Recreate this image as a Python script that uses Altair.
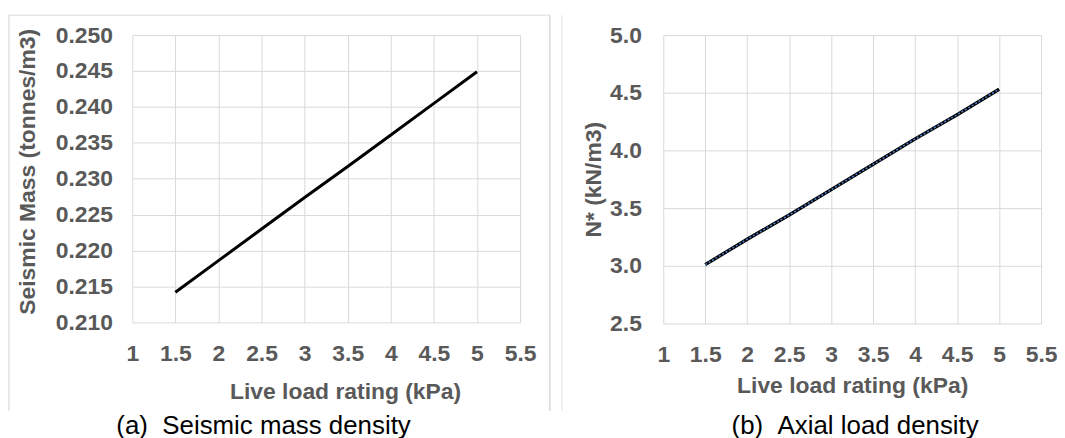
import altair as alt
import pandas as pd

# ---- data ----
live_load = [1.5, 2.0, 2.5, 3.0, 3.5, 4.0, 4.5, 5.0]
seismic_mass = [0.2142, 0.2186, 0.2230, 0.2274, 0.2317, 0.2361, 0.2405, 0.2449]
axial_load = [3.01, 3.23, 3.44, 3.66, 3.88, 4.10, 4.31, 4.53]

x_ticks = [1, 1.5, 2, 2.5, 3, 3.5, 4, 4.5, 5, 5.5]
y_ticks_a = [0.210, 0.215, 0.220, 0.225, 0.230, 0.235, 0.240, 0.245, 0.250]
y_ticks_b = [2.5, 3.0, 3.5, 4.0, 4.5, 5.0]

x_title = "Live load rating (kPa)"
y_title_a = "Seismic Mass (tonnes/m3)"
y_title_b = "N* (kN/m3)"
caption_a = "(a)\u00a0\u00a0Seismic mass density"
caption_b = "(b)\u00a0\u00a0Axial load density"

FONT = "Liberation Sans"
GRAY = "#595959"
GRID = "#d9d9d9"

df = pd.DataFrame({"load": live_load, "mass": seismic_mass, "axial": axial_load})
one = pd.DataFrame({"k": [0]})

W1, H1 = 390, 289
W2, H2 = 380, 290


def vrule(x, y1, y2, color):
    return alt.Chart(one).mark_rule(color=color, strokeWidth=1).encode(
        x=alt.value(x), y=alt.value(y1), y2=alt.value(y2))


def hrule(x1, x2, y, color):
    return alt.Chart(one).mark_rule(color=color, strokeWidth=1).encode(
        x=alt.value(x1), x2=alt.value(x2), y=alt.value(y))


def x_axis(title_padding, title_x):
    return alt.X("load:Q", title=x_title,
                 scale=alt.Scale(domain=[1, 5.5], nice=False, zero=False),
                 axis=alt.Axis(values=x_ticks, format="~g", labelFlush=False,
                               labelOverlap=False, labelPadding=20,
                               titlePadding=title_padding, titleX=title_x))


# ---- panel (a) ----
line_a = alt.Chart(df).mark_line(color="black", strokeWidth=3).encode(
    x=x_axis(16, 214),
    y=alt.Y("mass:Q", title=y_title_a,
            scale=alt.Scale(domain=[0.21, 0.25], nice=False, zero=False),
            axis=alt.Axis(values=y_ticks_a, format=".3f", labelPadding=20,
                          titlePadding=16, titleY=137)),
)
frame_a = alt.layer(
    vrule(-124, -20, 378, "#d3d3d3"),
    hrule(-124, 420, -20, "#dcdcdc"),
    vrule(420, -20, 378, "#c4c4c4"),
)
panel_a = alt.layer(frame_a, line_a).properties(
    width=W1, height=H1,
    title=alt.TitleParams(caption_a, orient="bottom", anchor="middle",
                          font=FONT, fontSize=26, fontWeight="normal",
                          color="black", dx=-63, offset=2),
)

# ---- panel (b) ----
base_b = alt.Chart(df).encode(
    x=x_axis(8, 190),
    y=alt.Y("axial:Q", title=y_title_b,
            scale=alt.Scale(domain=[2.5, 5.0], nice=False, zero=False),
            axis=alt.Axis(values=y_ticks_b, format=".1f", labelPadding=22,
                          titlePadding=4)),
)
line_b = base_b.mark_line(color="black", strokeWidth=3.4)
dots_b = base_b.mark_line(color="#4a7cc9", strokeWidth=1.6, strokeDash=[2, 2])
frame_b = vrule(-102, -20, 378, "#e4e4e4")
panel_b = alt.layer(frame_b, line_b, dots_b).properties(
    width=W2, height=H2,
    title=alt.TitleParams(caption_b, orient="bottom", anchor="middle",
                          font=FONT, fontSize=26, fontWeight="normal",
                          color="black", dx=3, offset=2),
)

chart = alt.hconcat(panel_a, panel_b, spacing=10).properties(
    padding={"left": 0, "top": 5, "right": 0, "bottom": 0}
).configure(background="white").configure_axis(
    labelFont=FONT, labelFontSize=23, labelFontWeight="bold", labelColor=GRAY,
    titleFont=FONT, titleFontSize=23, titleFontWeight="bold", titleColor=GRAY,
    gridColor=GRID, gridWidth=1, domain=False, ticks=False,
).configure_view(strokeWidth=0)

chart.save("out.html", embed_options={"renderer": "svg", "actions": False})
